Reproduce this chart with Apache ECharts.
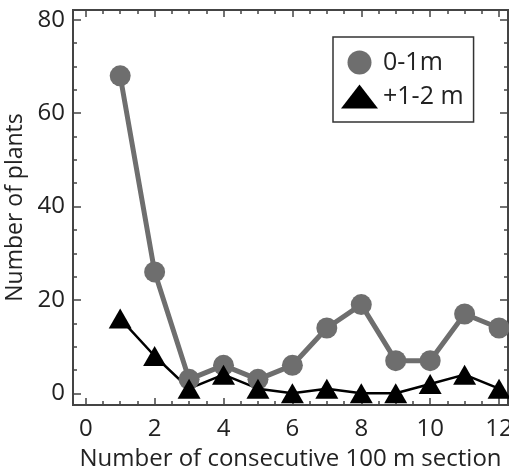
<!DOCTYPE html>
<html>
<head>
<meta charset="utf-8">
<script src="https://cdn.jsdelivr.net/npm/echarts@6/dist/echarts.min.js"></script>
<style>
  html, body { margin: 0; padding: 0; background: #fff; }
  #chart { width: 509px; height: 473px; }
</style>
</head>
<body>
<div id="chart"></div>
<script>
// data
var sections = [1, 2, 3, 4, 5, 6, 7, 8, 9, 10, 11, 12]
var plants01 = [68, 26, 3, 6, 3, 6, 14, 19, 7, 7, 17, 14]
var plants12 = [16, 8, 1, 4, 1, 0, 1, 0, 0, 2, 4, 1]
var xTickLabels = [0, 2, 4, 6, 8, 10, 12]
var xMinorTicks = [0, 0.5, 1, 1.5, 2, 2.5, 3, 3.5, 4, 4.5, 5, 5.5, 6, 6.5, 7, 7.5, 8, 8.5, 9, 9.5, 10, 10.5, 11, 11.5, 12]
var yTickLabels = [0, 20, 40, 60, 80]
var yMinorTicks = [0, 5, 10, 15, 20, 25, 30, 35, 40, 45, 50, 55, 60, 65, 70, 75, 80]

var font = 'Open Sans'
var frameColor = '#444'

function xAxis(pos, ticks, len, showLabel, name) {
  return {
    type: 'value', position: pos, min: -0.37, max: 12.26,
    name: name || '', nameLocation: 'middle', nameGap: 42,
    nameTextStyle: { fontFamily: font, fontSize: 24, color: '#222' },
    axisLine: { show: true, onZero: false, lineStyle: { color: frameColor, width: 2 } },
    axisTick: { show: true, inside: true, length: len, customValues: ticks,
      lineStyle: { color: frameColor, width: 1.5 } },
    axisLabel: { show: showLabel, customValues: xTickLabels, margin: 12,
      fontFamily: font, fontSize: 24, color: '#222' },
    splitLine: { show: false }
  }
}

function yAxis(pos, ticks, len, showLabel, name) {
  return {
    type: 'value', position: pos, min: -2.5, max: 82.1,
    name: name || '', nameLocation: 'middle', nameGap: 38,
    nameTextStyle: { fontFamily: font, fontSize: 23, color: '#222' },
    axisLine: { show: true, onZero: false, lineStyle: { color: frameColor, width: 2 } },
    axisTick: { show: true, inside: true, length: len, customValues: ticks,
      lineStyle: { color: frameColor, width: 1.5 } },
    axisLabel: { show: showLabel, customValues: yTickLabels, margin: 8,
      fontFamily: font, fontSize: 24, color: '#222' },
    splitLine: { show: false }
  }
}

var chart = echarts.init(document.getElementById('chart'))
chart.setOption({
  animation: false,
  grid: { left: 73, right: 1, top: 10, bottom: 68, outerBoundsMode: 'none', containLabel: false },
  legend: {
    left: 333, top: 37,
    orient: 'vertical',
    borderColor: '#333', borderWidth: 1.5, borderRadius: 0,
    padding: [13, 10, 13, 8],
    itemGap: 9, itemWidth: 37, itemHeight: 24,
    textStyle: { fontFamily: font, fontSize: 25, color: '#222' },
    data: [
      { name: '0-1m', icon: 'circle' },
      { name: '+1-2 m', icon: 'triangle' }
    ]
  },
  xAxis: [
    xAxis('bottom', xTickLabels, 7, true, 'Number of consecutive 100 m section'),
    xAxis('bottom', xMinorTicks, 4, false),
    xAxis('top', xTickLabels, 7, false),
    xAxis('top', xMinorTicks, 4, false)
  ],
  yAxis: [
    yAxis('left', yTickLabels, 8, true, 'Number of plants'),
    yAxis('left', yMinorTicks, 4, false),
    yAxis('right', yTickLabels, 8, false),
    yAxis('right', yMinorTicks, 4, false)
  ],
  series: [
    {
      name: '0-1m', type: 'line',
      data: sections.map(function (s, i) { return [s, plants01[i]] }),
      symbol: 'circle', symbolSize: 21,
      itemStyle: { color: '#6e6e6e' },
      lineStyle: { color: '#6e6e6e', width: 5 }
    },
    {
      name: '+1-2 m', type: 'line',
      data: sections.map(function (s, i) { return [s, plants12[i]] }),
      symbol: 'triangle', symbolSize: [23, 20],
      itemStyle: { color: '#000' },
      lineStyle: { color: '#000', width: 2.5 }
    }
  ]
})
</script>
</body>
</html>
